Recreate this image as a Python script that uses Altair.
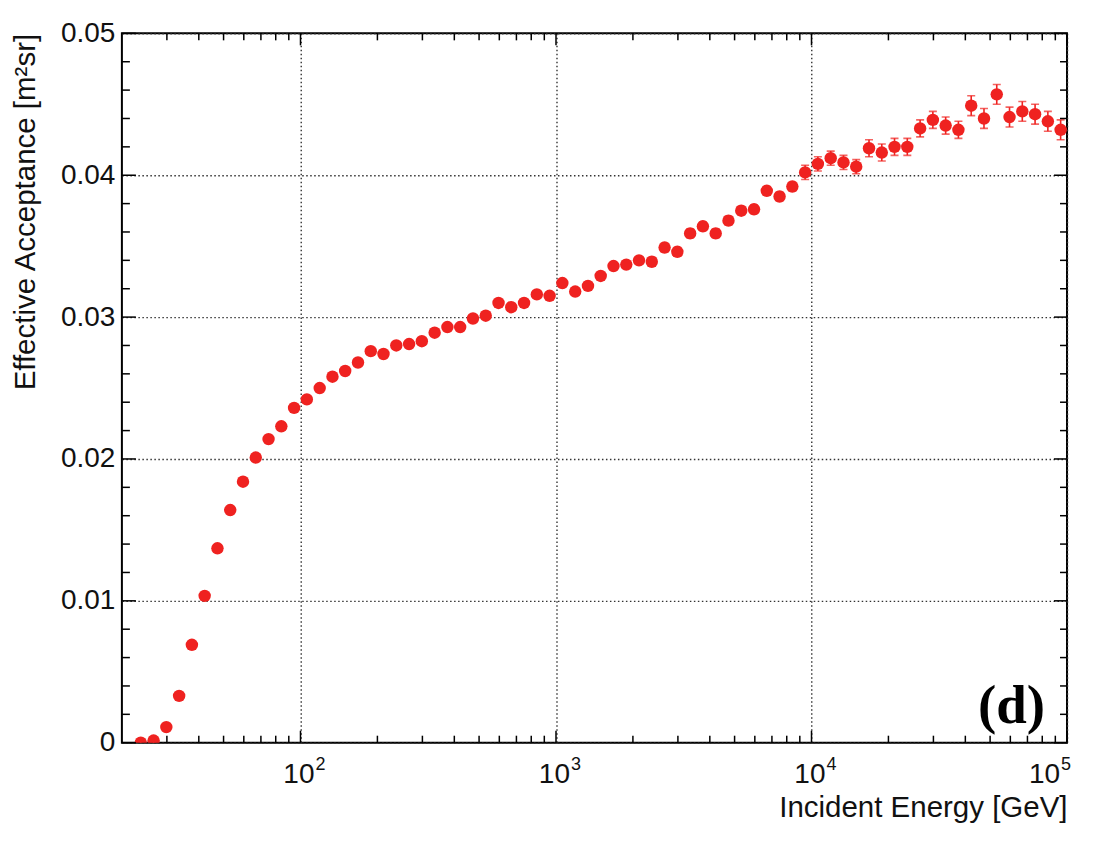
import altair as alt
import pandas as pd

# ---- data ----
energy = [23.71, 26.61, 29.85, 33.50, 37.58, 42.17, 47.32, 53.09, 59.57, 66.83,
          74.99, 84.14, 94.41,
          105.9, 118.9, 133.4, 149.6, 167.9, 188.4, 211.3, 237.1, 266.1, 298.5,
          335.0, 375.8, 421.7, 473.2, 530.9, 595.7, 668.3, 749.9, 841.4, 944.1,
          1059, 1189, 1334, 1496, 1679, 1884, 2113, 2371, 2661, 2985,
          3350, 3758, 4217, 4732, 5309, 5957, 6683, 7499, 8414, 9441,
          10590, 11890, 13340, 14960, 16790, 18840, 21130, 23710, 26610, 29850,
          33500, 37580, 42170, 47320, 53090, 59570, 66830, 74990, 84140, 94410]

acceptance = [0.0000, 0.00015, 0.0011, 0.0033, 0.0069, 0.01035, 0.0137, 0.0164, 0.0184, 0.0201,
              0.0214, 0.0223, 0.0236, 0.0242, 0.0250, 0.0258, 0.0262, 0.0268, 0.0276, 0.0274,
              0.0280, 0.0281, 0.0283, 0.0289, 0.0293, 0.0293, 0.0299, 0.0301, 0.0310, 0.0307,
              0.0310, 0.0316, 0.0315, 0.0324, 0.0318, 0.0322, 0.0329, 0.0336, 0.0337, 0.0340,
              0.0339, 0.0349, 0.0346, 0.0359, 0.0364, 0.0359, 0.0368, 0.0375, 0.0376, 0.0389,
              0.0385, 0.0392, 0.0402, 0.0408, 0.0412, 0.0409, 0.0406, 0.0419, 0.0416, 0.0420,
              0.0420, 0.0433, 0.0439, 0.0435, 0.0432, 0.0449, 0.0440, 0.0457, 0.0441, 0.0445,
              0.0443, 0.0438, 0.0432]

acc_error = [0.0002, 0.0002, 0.0002, 0.0002, 0.0002, 0.0002, 0.0002, 0.0002, 0.0002, 0.0002,
             0.0002, 0.0002, 0.0002, 0.0002, 0.0002, 0.0002, 0.0002, 0.0002, 0.0002, 0.0002,
             0.0002, 0.0002, 0.0002, 0.0002, 0.0002, 0.0002, 0.0002, 0.0002, 0.0002, 0.0002,
             0.0002, 0.0002, 0.0002, 0.0002, 0.0002, 0.0002, 0.0002, 0.0002, 0.0002, 0.0002,
             0.0003, 0.0003, 0.0003, 0.0003, 0.0003, 0.0003, 0.0003, 0.0003, 0.0003, 0.0003,
             0.0003, 0.0003, 0.0005, 0.0005, 0.0005, 0.0005, 0.0005, 0.0006, 0.0006, 0.0006,
             0.0006, 0.0006, 0.0006, 0.0006, 0.0006, 0.0007, 0.0007, 0.0007, 0.0007, 0.0007,
             0.0007, 0.0007, 0.0007]

x_major_ticks = [100, 1000, 10000, 100000]
x_label_base = ["10", "10", "10", "10"]
x_label_exp = ["2", "3", "4", "5"]
x_minor_ticks = [30, 40, 50, 60, 70, 80, 90,
                 200, 300, 400, 500, 600, 700, 800, 900,
                 2000, 3000, 4000, 5000, 6000, 7000, 8000, 9000,
                 20000, 30000, 40000, 50000, 60000, 70000, 80000, 90000]
y_major_ticks = [0.0, 0.01, 0.02, 0.03, 0.04, 0.05]
y_tick_labels = ["0", "0.01", "0.02", "0.03", "0.04", "0.05"]
y_minor_ticks = [0.002, 0.004, 0.006, 0.008, 0.012, 0.014, 0.016, 0.018,
                 0.022, 0.024, 0.026, 0.028, 0.032, 0.034, 0.036, 0.038,
                 0.042, 0.044, 0.046, 0.048]

panel_label = "(d)"
x_title = "Incident Energy [GeV]"
y_title = "Effective Acceptance [m²sr]"

# ---- styling ----
W, H = 946, 710
RED = "#ef2220"
FONT = "Liberation Sans"
TXT = "#111111"

df = pd.DataFrame({"E": energy, "A": acceptance, "err": acc_error})
df["lo"] = df["A"] - df["err"]
df["hi"] = df["A"] + df["err"]

xscale = alt.Scale(type="log", domain=[20, 100000], nice=False)
yscale = alt.Scale(domain=[0, 0.05], nice=False, zero=False)

y_expr = "[" + ",".join("'%s'" % s for s in y_tick_labels) + "][indexof([" + \
    ",".join(str(v) for v in y_major_ticks) + "], datum.value)]"

x_axis = alt.Axis(values=x_major_ticks, labels=False, ticks=False, domain=False,
                  grid=True, gridDash=[1.5, 2.5], gridColor="#333", gridWidth=1.4,
                  title=x_title, titleFont=FONT, titleFontSize=29.5, titleFontWeight="normal",
                  titleColor=TXT, titleAlign="right", titleBaseline="alphabetic",
                  titleX=W, titleY=74)
y_axis = alt.Axis(values=y_major_ticks, labelExpr=y_expr, ticks=False, domain=False,
                  grid=True, gridDash=[1.5, 2.5], gridColor="#333", gridWidth=1.4,
                  labelFont=FONT, labelFontSize=28, labelColor=TXT, labelPadding=7,
                  labelFlush=False, labelOverlap=False,
                  title=y_title, titleFont=FONT, titleFontSize=29.5, titleFontWeight="normal",
                  titleColor=TXT, titleAngle=270, titleAlign="right",
                  titleBaseline="alphabetic", titleX=-87, titleY=0)


def X(field):
    return alt.X(field, type="quantitative", scale=xscale, axis=x_axis)


def Y(field):
    return alt.Y(field, type="quantitative", scale=yscale, axis=y_axis)


base = alt.Chart(df)

bars = base.mark_rule(color=RED, strokeWidth=1.6, clip=True).encode(
    x=X("E"), y=Y("lo"), y2="hi:Q")
cap_lo = base.mark_tick(color=RED, orient="horizontal", size=8, thickness=1.6,
                        clip=True).encode(x=X("E"), y=Y("lo"))
cap_hi = base.mark_tick(color=RED, orient="horizontal", size=8, thickness=1.6,
                        clip=True).encode(x=X("E"), y=Y("hi"))
points = base.mark_circle(color=RED, size=155, opacity=1, clip=True).encode(
    x=X("E"), y=Y("A"))


def yticks(vals, x0, x1):
    return alt.Chart(pd.DataFrame({"v": vals})).mark_rule(color="black", strokeWidth=1.5).encode(
        y=Y("v"), x=alt.value(x0), x2=alt.value(x1))


def xticks(vals, y0, y1):
    return alt.Chart(pd.DataFrame({"v": vals})).mark_rule(color="black", strokeWidth=1.5).encode(
        x=X("v"), y=alt.value(y0), y2=alt.value(y1))


tick_layers = [
    yticks(y_major_ticks, 0, 14), yticks(y_minor_ticks, 0, 8),
    yticks(y_major_ticks, W, W - 13), yticks(y_minor_ticks, W, W - 7),
    xticks(x_major_ticks, H, H - 12), xticks(x_minor_ticks, H, H - 7),
    xticks(x_major_ticks, 0, 12), xticks(x_minor_ticks, 0, 7),
]

# x tick labels: "10" with a raised exponent, placed through the x scale
lab_df = pd.DataFrame({"v": x_major_ticks, "b": x_label_base, "e": x_label_exp})
lab_base = alt.Chart(lab_df)
inner = lab_base.transform_filter("datum.v < 100000")
outer = lab_base.transform_filter("datum.v >= 100000")


def base_text(src, dx):
    return src.mark_text(font=FONT, fontSize=28, color=TXT, align="right",
                         baseline="alphabetic", dx=dx).encode(
        x=X("v"), y=alt.value(H + 40), text="b:N")


def exp_text(src, dx):
    return src.mark_text(font=FONT, fontSize=18, color=TXT, align="left",
                         baseline="alphabetic", dx=dx).encode(
        x=X("v"), y=alt.value(H + 27), text="e:N")


x_labels = [base_text(inner, 14), exp_text(inner, 15),
            base_text(outer, -7), exp_text(outer, -6)]

label = alt.Chart(pd.DataFrame({"t": [panel_label]})).mark_text(
    font="Liberation Serif", fontWeight="bold", fontSize=55, align="right",
    baseline="alphabetic", color="black").encode(
    text="t:N", x=alt.value(W - 22), y=alt.value(H - 20))

chart = alt.layer(bars, cap_lo, cap_hi, points, *tick_layers, *x_labels, label).properties(
    width=W, height=H,
    autosize=alt.AutoSizeParams(type="none"),
    padding={"left": 114, "top": 25, "right": 20, "bottom": 90},
    background="white",
).configure_view(stroke="black", strokeWidth=2)

chart.save("out.html", embed_options={"renderer": "svg", "actions": False})
